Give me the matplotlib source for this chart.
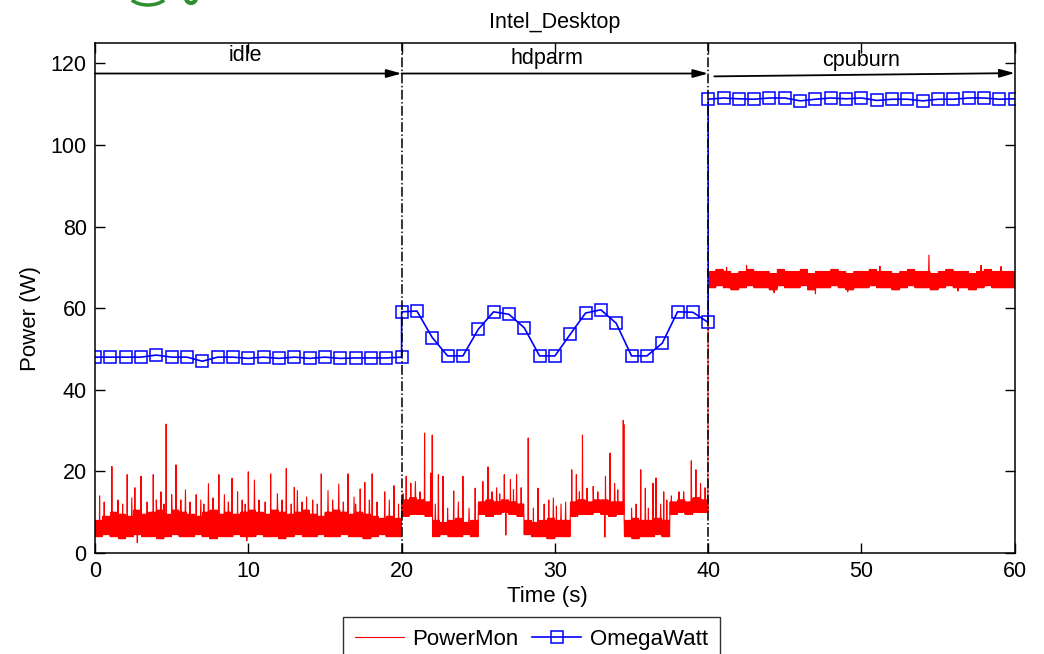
import numpy as np
import matplotlib
matplotlib.use("Agg")
import matplotlib.pyplot as plt
from matplotlib.patches import Arc

plt.rcParams["font.family"] = ["Liberation Sans", "DejaVu Sans"]

# OmegaWatt readings, one per second (duplicate times at the phase switches)
ow_t = list(range(0, 21)) + [20] + list(range(21, 41)) + [40] + list(range(41, 61))
ow_w = [48, 48, 48, 48, 48.5, 48, 48, 47, 48, 48, 47.7, 48, 47.7, 48, 47.7, 48, 47.7, 47.8, 47.8, 47.8, 48,
        59.1,
        59.3, 52.8, 48.3, 48.3, 54.8, 59.1, 58.5, 55.2, 48.3, 48.3, 53.6, 58.8, 59.6, 56.3, 48.3, 48.3, 51.4, 59.1, 59.0, 56.5,
        111.2,
        111.5, 111.3, 111.2, 111.5, 111.5, 110.8, 111.2, 111.5, 111.3, 111.5, 110.9, 111.2, 111.2, 110.8, 111.2, 111.2, 111.5, 111.5, 111.2, 111.3]

# PowerMon: band floor / ceiling per half second (120 slots)
pm_lo = ([4, 4.5, 4, 3.5, 4, 4.5, 4, 4, 3.5, 4, 4.5, 4, 4, 4.5, 4, 3.5, 4, 4, 4.5, 4,
          4, 4.5, 4, 4, 3.5, 4, 4.5, 4, 4, 4.5, 4, 4, 4.5, 4, 4, 3.5, 4, 4.5, 4, 4]
         + [9, 9.5, 9.5, 9] + [4, 4.5, 4, 4, 4.5, 4] + [9.5, 9, 9.5, 10, 9.5, 9]
         + [4.5, 4, 4, 3.5, 4, 4] + [9, 9.5, 9.5, 10, 9.5, 9, 9.5] + [4, 3.5, 4, 4, 4.5, 4]
         + [9.5, 10, 9.5, 10, 10]
         + [65, 65.5, 65, 64.5, 65, 65.5, 65, 65, 64.5, 65.5, 65, 65, 65.5, 64.5, 65, 65, 65.5, 65, 64.5, 65,
            65, 65.5, 65, 65, 64.5, 65, 65.5, 65, 65, 64.5, 65, 65.5, 65, 65, 64.5, 65, 65.5, 65, 65, 65])
pm_hi = ([8, 9, 10, 9.5, 9, 10.5, 9.5, 10, 10.5, 9.5, 10.5, 10, 9.5, 9, 10, 10.5, 9.5, 10, 9.5, 10,
          10.5, 10, 9.5, 10.5, 10, 9.5, 10, 10.5, 9.5, 9, 10, 10.5, 10, 9.5, 10, 9.5, 9, 8.5, 9, 8.5]
         + [13, 13.5, 13, 12.5] + [8, 7.5, 8, 8.5, 7.5, 8] + [12.5, 13, 12.5, 13, 12.5, 12]
         + [8, 7.5, 8, 8.5, 8, 8] + [12.5, 13, 12.5, 13, 13, 12.5, 12.5] + [8, 8.5, 8, 8, 8.5, 8]
         + [12.5, 13, 12.5, 13.5, 13]
         + [69, 69.5, 69, 68.5, 69, 69.5, 69, 69, 68.5, 69.5, 69, 69, 69.5, 68.5, 69, 69, 69.5, 69, 68.5, 69,
            69, 69.5, 69, 69, 68.5, 69, 69.5, 69, 69, 68.5, 69, 69.5, 69, 69, 68.5, 69, 69.5, 69, 69, 69])

# PowerMon single-sample spikes and dips (time s, watts)
pm_event_t = [1.1, 2.1, 2.6, 3.0, 3.8, 4.3, 4.63, 5.0, 5.28, 5.9, 6.6, 7.4, 8.07, 8.45, 8.94, 9.3, 10.0,
              10.4, 11.46, 11.9, 12.48, 13.0, 13.2, 13.8, 14.76, 15.2, 15.9, 16.5, 16.9, 17.3, 17.6, 18.07, 18.9, 19.5,
              0.3, 0.6, 1.5, 1.8, 2.4, 3.4, 4.0, 4.5, 5.6, 6.2, 6.9, 7.1, 7.7, 8.7, 9.6, 9.8, 10.7, 11.1, 12.2,
              12.8, 13.5, 14.2, 14.5, 15.5, 16.2, 17.0, 17.9, 18.4, 19.2, 19.8, 2.75, 9.9,
              20.3, 20.6, 20.9, 21.5, 21.9, 22.0, 22.4, 22.7, 23.4, 24.0, 24.8, 25.3, 25.65, 26.2, 26.7, 27.1, 27.5,
              27.8, 28.26, 28.9, 29.6, 29.9, 30.4, 31.1, 31.4, 31.8, 32.1, 32.5, 33.3, 33.6, 33.9, 34.45, 34.5,
              35.6, 35.9, 36.4, 36.6, 37.1, 37.6, 38.1, 38.9, 39.2, 39.5,
              20.1, 21.2, 25.9, 26.4, 27.3, 31.6, 32.8, 34.1, 38.4, 39.8,
              22.2, 23.0, 23.7, 24.4, 28.6, 29.3, 30.1, 30.7, 35.0, 35.3, 36.1, 36.9, 37.3, 26.8, 33.26,
              54.4, 42.5, 47.0, 44.3, 51.2, 57.8, 49.1, 56.3, 41.2, 59.1]
pm_event_w = [21.2, 19.2, 16, 18.8, 19.2, 15, 31.6, 14.3, 21.6, 15.5, 14.3, 17, 19.2, 14.3, 18.3, 15, 19.9,
              17.9, 19.4, 14.5, 20.7, 16.1, 15.3, 13.7, 19.4, 15.3, 16.9, 19.4, 13.7, 15.7, 17.3, 19.4, 15, 16.5,
              14, 12.5, 13, 12, 13.5, 12.5, 13, 12, 13, 12.5, 13, 12, 13.5, 12.5, 13, 12, 13, 12.5, 13,
              12, 12.5, 13, 12, 13, 12.5, 12, 13, 12.5, 13, 12, 2.5, 3,
              18.8, 17.1, 17.5, 29.4, 19.6, 28.9, 19.2, 18.8, 15.2, 18.8, 15.9, 17.5, 21.1, 16, 19.2, 18, 19.2,
              16, 28.2, 15.9, 13, 13.5, 12, 20.4, 19.2, 28.9, 15.9, 16.3, 18.8, 24.5, 17.1, 32.5, 31.5,
              20.4, 15.9, 17.1, 18.4, 15, 14, 15, 22.6, 20.4, 17,
              14.5, 15, 15, 14.5, 15.5, 15, 15, 15.5, 15, 16,
              12, 11, 12.5, 11, 11, 12, 11.5, 12.5, 11, 12, 11, 12, 13, 4.4, 3.9,
              73, 70.5, 63.5, 63.8, 70.3, 70.5, 64, 64.2, 70, 70.2]

phase_names = ["idle", "hdparm", "cpuburn"]
phase_edges = [0, 20, 40, 60]

# build the 50 Hz PowerMon trace from the band readings
n_sub = 25
pm_t = np.arange(len(pm_lo) * n_sub) * 0.5 / n_sub
pm_v = np.empty(len(pm_t))
for i in range(len(pm_lo)):
    for k in range(n_sub):
        pm_v[i * n_sub + k] = pm_lo[i] if k % 2 == 0 else pm_hi[i]
for t, w in zip(pm_event_t, pm_event_w):
    pm_v[int(round(t * n_sub / 0.5))] = w
pm_t = np.append(pm_t, 60.0)
pm_v = np.append(pm_v, pm_v[-1])

fig = plt.figure(figsize=(10.44, 6.54), dpi=100)
ax = fig.add_axes([0.091, 0.1544, 0.881, 0.780])

l1, = ax.plot(pm_t, pm_v, color="red", lw=0.8, label="PowerMon")
l2, = ax.plot(ow_t, ow_w, color="blue", lw=1.2, marker="s", ms=8, mfc="none",
              mec="blue", mew=1.1, label="OmegaWatt")

for x in phase_edges[1:3]:
    ax.axvline(x, color="black", ls="-.", lw=1.1)

arrow_y = [117.5, 117.5, 116.8]
text_y = [121.8, 121.3, 120.6]
text_x = [9.8, 29.5, 50]
for i, name in enumerate(phase_names):
    x0, x1 = phase_edges[i], phase_edges[i + 1]
    y1 = 117.6 if i == 2 else arrow_y[i]
    ax.annotate("", xy=(x1, y1), xytext=(x0 + (0.4 if i == 2 else 0), arrow_y[i]),
                arrowprops=dict(arrowstyle="-|>,head_length=0.9,head_width=0.25",
                                color="black", lw=1.3, shrinkA=0, shrinkB=0))
    ax.text(text_x[i], text_y[i], name, ha="center", va="center", fontsize=15.5)

ax.set_xlim(0, 60)
ax.set_ylim(0, 125)
ax.set_xticks(range(0, 61, 10))
ax.set_yticks(range(0, 121, 20))
ax.tick_params(direction="in", length=7, width=1, top=True, right=True, labelsize=15.5, pad=6)
for s in ax.spines.values():
    s.set_linewidth(1.1)
ax.set_xlabel("Time (s)", fontsize=16)
ax.set_ylabel("Power (W)", fontsize=16)
ax.xaxis.set_label_coords(0.492, -0.065)
ax.yaxis.set_label_coords(-0.059, 0.46)
ax.set_title("Intel_Desktop", fontsize=15.5, pad=11)

leg = fig.legend(handles=[l1, l2], loc="upper center", bbox_to_anchor=(0.509, 1 - 617 / 654), ncol=2,
                 fontsize=16, frameon=True, fancybox=False, edgecolor="black", borderaxespad=0,
                 handlelength=2.2, columnspacing=0.6, handletextpad=0.4, borderpad=0.55)
leg.get_frame().set_linewidth(1.0)

# cut-off green artwork at the top edge
green = "#2f8f2f"
fig.patches.append(Arc((148 / 1044, 1 + 10 / 654), 44 / 1044, 30 / 654, theta1=225, theta2=315,
                       transform=fig.transFigure, color=green, lw=2.5))
fig.patches.append(Arc((191 / 1044, 1 + 2 / 654), 10 / 1044, 10 / 654, theta1=200, theta2=340,
                       transform=fig.transFigure, color=green, lw=3))

fig.savefig("out.png", dpi=100)
